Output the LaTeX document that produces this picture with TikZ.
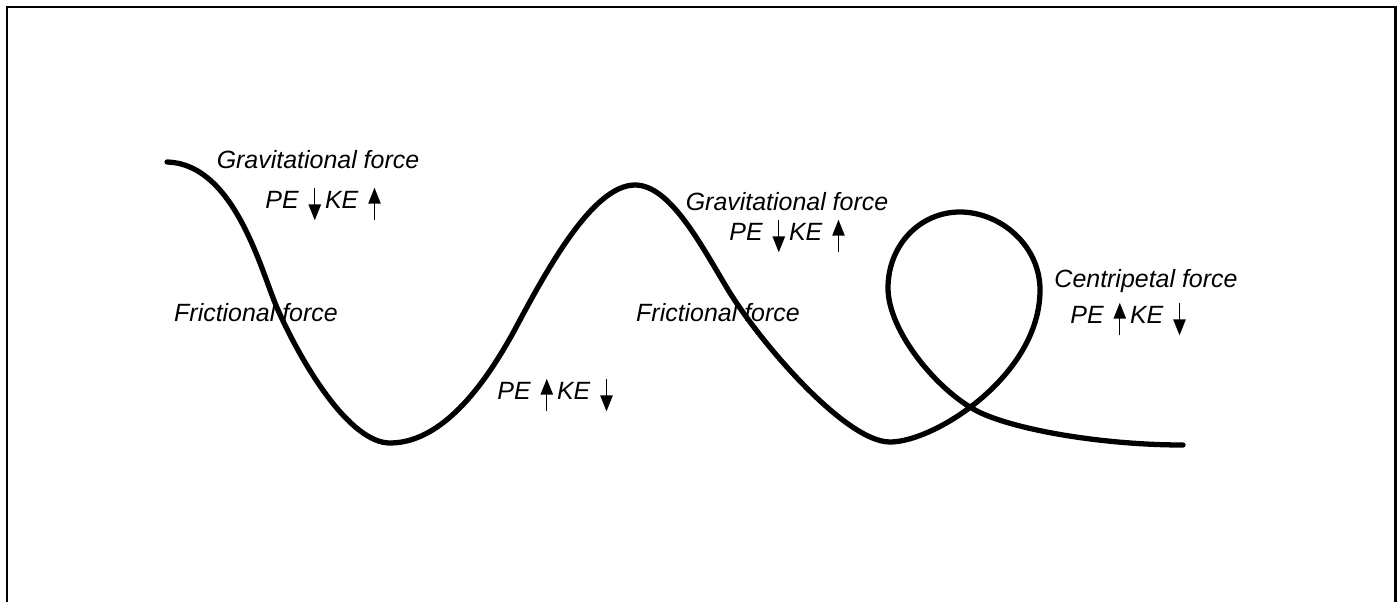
\documentclass[tikz,border=0pt]{standalone}
\usepackage{fontspec}
\setmainfont{Liberation Sans}
\usetikzlibrary{arrows.meta}
\tikzset{
  track/.style={line width=3pt, line cap=round, line join=round},
  border/.style={line width=1.7pt},
  forcelab/.style={font=\itshape\fontsize{14.2}{17}\selectfont, anchor=base, inner sep=0pt},
  energylab/.style={font=\itshape\fontsize{14.2}{17}\selectfont, anchor=base, inner sep=0pt},
}
% small up / down arrows used inside the energy labels
\newcommand{\riseArr}{\tikz[baseline=0pt]\draw[line width=0.8pt, -{Triangle[length=9pt,width=7pt]}] (0,-7pt) -- (0,11.5pt);}
\newcommand{\dropArr}{\tikz[baseline=0pt]\draw[line width=0.8pt, -{Triangle[length=9pt,width=7pt]}] (0,11.5pt) -- (0,-7pt);}

\begin{document}
\begin{tikzpicture}[x=0.02cm, y=-0.02cm]
  \useasboundingbox (0,0) rectangle (1398,602);

  % frame (open at the bottom)
  \draw[border] (7,602) -- (7,7) -- (1395,7) -- (1395,602);

  % roller coaster track
  \draw[track] (167,162)
    .. controls (236,164) and (262,275) .. (278,310)
    .. controls (303,366) and (350,443) .. (390,443)
    .. controls (450,443) and (495,365) .. (513,333)
    .. controls (545,273) and (592,185) .. (635,185)
    .. controls (670,185) and (701,245) .. (727,288)
    .. controls (758,340) and (845,442) .. (890,442)
    .. controls (935,442) and (1040,375) .. (1040,290)
    .. controls (1040,245) and (1000,212) .. (960,212)
    .. controls (920,212) and (888,245) .. (888,288)
    .. controls (888,330) and (935,388) .. (975,410)
    .. controls (1010,429) and (1100,445) .. (1183,445);

  % labels
  \node[forcelab] (grav1) at (318,168) {Gravitational force};
  \node[energylab] (drop1) at (323,208) {PE\hspace{0.4em}\dropArr\,KE\hspace{0.4em}\riseArr};
  \node[forcelab] (fric1) at (256,321) {Frictional force};
  \node[energylab] (rise1) at (555,399) {PE\hspace{0.4em}\riseArr\,KE\hspace{0.4em}\dropArr};
  \node[forcelab] (grav2) at (787,210) {Gravitational force};
  \node[energylab] (drop2) at (787,240) {PE\hspace{0.4em}\dropArr\,KE\hspace{0.4em}\riseArr};
  \node[forcelab] (fric2) at (718,321) {Frictional force};
  \node[forcelab] (centri) at (1146,287) {Centripetal force};
  \node[energylab] (rise2) at (1128,323) {PE\hspace{0.4em}\riseArr\,KE\hspace{0.4em}\dropArr};
\end{tikzpicture}
\end{document}
